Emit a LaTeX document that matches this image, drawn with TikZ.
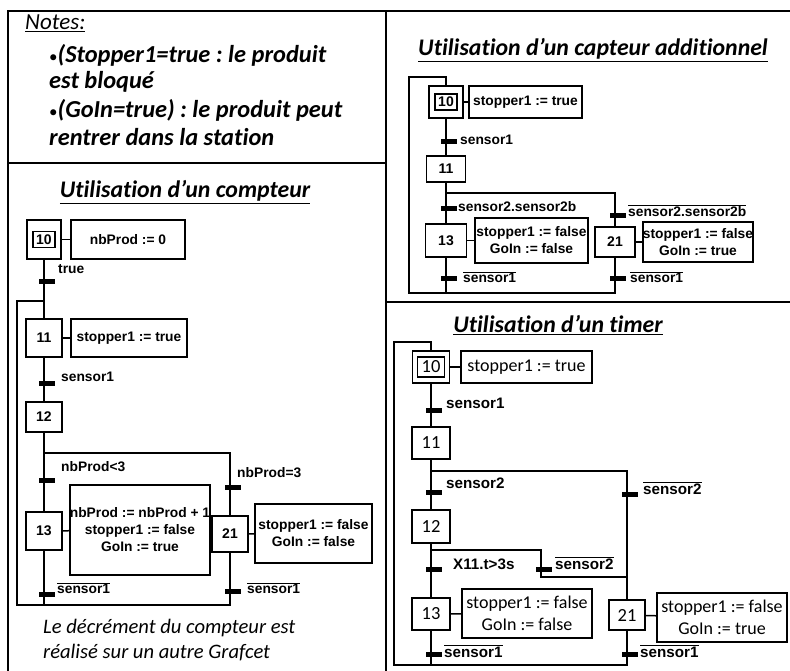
\documentclass[tikz,border=0pt]{standalone}
\usepackage{fontspec}
\setmainfont{Carlito}[Ligatures=NoCommon]
\newfontfamily\arialf{Liberation Sans}
\newcommand{\ovl}[1]{$\overline{\mbox{#1}}$}
\newcommand{\bul}{{\mdseries\upshape\fontsize{17}{17}\selectfont •}}
\frenchspacing
\begin{document}
\begin{tikzpicture}[x=1pt,y=-1pt,
  frame/.style={line width=1.8pt},
  gline/.style={line width=1.5pt},
  stepbox/.style={draw, line width=1.5pt, inner sep=0pt, font=\arialf\bfseries\fontsize{14}{16}\selectfont},
  actbox/.style={draw, line width=1.5pt, inner sep=0pt, align=center, font=\arialf\bfseries\fontsize{13.8}{17}\selectfont},
  tstepbox/.style={stepbox, font=\fontsize{18.5}{20}\selectfont},
  tactbox/.style={actbox, font=\fontsize{18}{22}\selectfont},
  bar/.style={fill, inner sep=0pt, minimum width=16pt, minimum height=5pt},
  tlab/.style={anchor=west, inner sep=0pt, font=\arialf\bfseries\fontsize{13.8}{15}\selectfont},
  ttlab/.style={tlab, font=\arialf\bfseries\fontsize{15.2}{17}\selectfont},
  title/.style={inner sep=0pt, font=\bfseries\itshape\fontsize{23.8}{26}\selectfont},
  note/.style={anchor=west, inner sep=0pt, font=\bfseries\itshape\fontsize{24.4}{27}\selectfont},
  caption/.style={anchor=west, inner sep=0pt, font=\itshape\fontsize{20.6}{24}\selectfont}
]
\useasboundingbox (0,0) rectangle (790,671);
% frame
\draw[frame] (8,671) -- (8,11) -- (790,11);
\draw[frame] (386,11) -- (386,671);
\draw[frame] (8,163) -- (386,163);
\draw[frame] (386,302) -- (790,302);
% notes
\node[anchor=west, inner sep=0pt, font=\itshape\fontsize{23}{26}\selectfont] (notes) at (25,23) {\underline{Notes:}};
\node[note] (n1) at (49,55) {\bul(Stopper1=true : le produit};
\node[note] (n2) at (49,82) {est bloqué};
\node[note] (n3) at (49,110) {\bul(GoIn=true) : le produit peut};
\node[note] (n4) at (49,137) {rentrer dans la station};

% ===== Left: compteur =====
\node[title] (tA) at (185,192) {\underline{Utilisation d’un compteur}};
\node[stepbox, minimum width=34pt, minimum height=39pt] (a10) at (44,239.5) {};
\node[stepbox, minimum width=22pt, minimum height=16pt] (a10i) at (a10) {10};
\node[actbox, minimum width=114pt, minimum height=39pt] (a10a) at (128,239.5) {nbProd := 0};
\node[stepbox, minimum width=36pt, minimum height=38pt] (a11) at (44,338) {11};
\node[actbox, minimum width=116pt, minimum height=38pt] (a11a) at (129,338) {stopper1 := true};
\node[stepbox, minimum width=36pt, minimum height=30pt] (a12) at (44,417) {12};
\node[stepbox, minimum width=36pt, minimum height=38pt] (a13) at (44,531) {13};
\node[actbox, minimum width=138pt, minimum height=90pt] (a13a) at (140,530) {nbProd := nbProd + 1\\stopper1 := false\\GoIn := true};
\node[stepbox, minimum width=36pt, minimum height=36pt] (a21) at (230,534) {21};
\node[actbox, minimum width=117pt, minimum height=59pt] (a21a) at (313.5,533.5) {stopper1 := false\\GoIn := false};
\coordinate (jA) at (44,453);
\coordinate (ltA) at (17,301);
\coordinate (lbA) at (17,605);
\draw[gline] (a10) -- (a10a);
\draw[gline] (a11) -- (a11a);
\draw[gline] (a13) -- (a13a);
\draw[gline] (a21) -- (a21a);
\draw[gline] (a10) -- (a11);
\draw[gline] (a11) -- (a12);
\draw[gline] (a12) -- (a13);
\draw[gline] (jA) -| (a21);
\draw[gline] (a13) -- (a13 |- lbA);
\draw[gline] (a21) |- (lbA) -- (ltA) -- (a11 |- ltA);
\node[bar] (ta1) at (47,281) {};
\node[tlab] (la1) at (58,269) {true};
\node[bar] (ta2) at (47,383) {};
\node[tlab] (la2) at (61,377) {sensor1};
\node[bar] (ta3) at (47,480) {};
\node[tlab] (la3) at (61,467) {nbProd<3};
\node[bar] (ta4) at (47,594) {};
\node[tlab] (la4) at (57,588) {\ovl{sensor1}};
\node[bar] (ta5) at (233,487) {};
\node[tlab] (la5) at (237,473) {nbProd=3};
\node[bar] (ta6) at (233,591) {};
\node[tlab] (la6) at (247,588) {\ovl{sensor1}};
\node[caption] (c1) at (43,628) {Le décrément du compteur est};
\node[caption] (c2) at (43,653) {réalisé sur un autre Grafcet};

% ===== Top right: capteur additionnel =====
\node[title] (tB) at (593,50) {\underline{Utilisation d’un capteur additionnel}};
\node[stepbox, minimum width=34pt, minimum height=32pt] (b10) at (446,102) {};
\node[stepbox, minimum width=22pt, minimum height=16pt] (b10i) at (b10) {10};
\node[actbox, minimum width=113pt, minimum height=32pt] (b10a) at (525.5,102) {stopper1 := true};
\node[stepbox, minimum width=39pt, minimum height=26pt] (b11) at (446,169) {11};
\node[stepbox, minimum width=41pt, minimum height=33pt] (b13) at (446,240.5) {13};
\node[actbox, minimum width=113pt, minimum height=45pt] (b13a) at (531.5,240.5) {stopper1 := false\\GoIn := false};
\node[stepbox, minimum width=40pt, minimum height=30pt] (b21) at (615,242) {21};
\node[actbox, minimum width=108pt, minimum height=40pt] (b21a) at (698,242) {stopper1 := false\\GoIn := true};
\coordinate (jB) at (446,193);
\coordinate (ltB) at (409,77);
\coordinate (lbB) at (409,293);
\draw[gline] (b10) -- (b10a);
\draw[gline] (b13) -- (b13a);
\draw[gline] (b21) -- (b21a);
\draw[gline] (b10) -- (b11);
\draw[gline] (b11) -- (b13);
\draw[gline] (jB) -| (b21);
\draw[gline] (b13) -- (b13 |- lbB);
\draw[gline] (b21) |- (lbB) -- (ltB) -- (b10 |- ltB) -- (b10);
\node[bar] (tb1) at (449,142) {};
\node[tlab] (lb1) at (460,140) {sensor1};
\node[bar] (tb2) at (449,209) {};
\node[tlab] (lb2) at (458,207) {sensor2.sensor2b};
\node[bar] (tb3) at (449,278) {};
\node[tlab] (lb3) at (463,277) {\ovl{sensor1}};
\node[bar] (tb4) at (618,216) {};
\node[tlab] (lb4) at (628,211) {\ovl{sensor2.sensor2b}};
\node[bar] (tb5) at (618,278) {};
\node[tlab] (lb5) at (630,277) {\ovl{sensor1}};

% ===== Bottom right: timer =====
\node[title] (tC) at (558,325) {\underline{Utilisation d’un timer}};
\node[tstepbox, minimum width=37pt, minimum height=32pt] (c10) at (431,367) {};
\node[tstepbox, minimum width=27pt, minimum height=20pt] (c10i) at (c10) {10};
\node[tactbox, minimum width=131pt, minimum height=32pt] (c10a) at (526.5,367) {stopper1 := true};
\node[tstepbox, minimum width=38pt, minimum height=32pt] (c11) at (431,443) {11};
\node[tstepbox, minimum width=38pt, minimum height=33pt] (c12) at (431,526.5) {12};
\node[tstepbox, minimum width=38pt, minimum height=32pt] (c13) at (431,614) {13};
\node[tactbox, minimum width=130pt, minimum height=49pt] (c13a) at (527,613.5) {stopper1 := false\\GoIn := false};
\node[tstepbox, minimum width=36pt, minimum height=30pt] (c21) at (627,615) {21};
\node[tactbox, minimum width=130pt, minimum height=49pt] (c21a) at (722,617.5) {stopper1 := false\\GoIn := true};
\coordinate (jC1) at (431,471);
\coordinate (jC2) at (431,550);
\coordinate (mC) at (541,577);
\coordinate (ltC) at (394,342);
\coordinate (lbC) at (394,665);
\draw[gline] (c10) -- (c10a);
\draw[gline] (c13) -- (c13a);
\draw[gline] (c21) -- (c21a);
\draw[gline] (c10) -- (c11);
\draw[gline] (c11) -- (c12);
\draw[gline] (c12) -- (c13);
\draw[gline] (jC1) -| (c21);
\draw[gline] (jC2) -| (mC) -- (mC -| c21);
\draw[gline] (c13) -- (c13 |- lbC);
\draw[gline] (c21) |- (lbC) -- (ltC) -- (c10 |- ltC) -- (c10);
\node[bar] (tc1) at (434,410) {};
\node[ttlab] (lc1) at (446,403) {sensor1};
\node[bar] (tc2) at (434,492) {};
\node[ttlab] (lc2) at (446,483) {sensor2};
\node[bar] (tc3) at (434,569) {};
\node[ttlab] (lc3) at (453,564) {X11.t>3s};
\node[bar] (tc4) at (544,569) {};
\node[ttlab] (lc4) at (555,563) {\ovl{sensor2}};
\node[bar] (tc5) at (630,494) {};
\node[ttlab] (lc5) at (643,488) {\ovl{sensor2}};
\node[bar] (tc6) at (434,654) {};
\node[ttlab] (lc6) at (444,651) {\ovl{sensor1}};
\node[bar] (tc7) at (630,654) {};
\node[ttlab] (lc7) at (640,651) {\ovl{sensor1}};
\end{tikzpicture}
\end{document}
